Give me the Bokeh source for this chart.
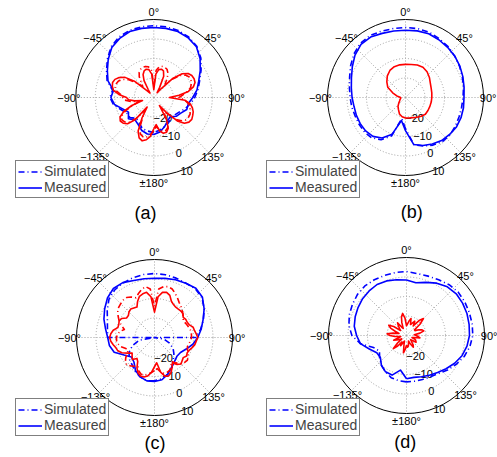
import numpy as np
from bokeh.plotting import figure
from bokeh.layouts import gridplot
from bokeh.models import Legend, LegendItem
from bokeh.core.properties import value
from bokeh.embed import file_html
from bokeh.resources import INLINE

# ---------------- data (dB, angle in degrees, 0 = top, clockwise) ----------------
ANG10 = list(range(-180, 180, 10))
ANG5 = list(range(-180, 180, 5))

RING_DB = [-20, -10, 0, 10]
RING_LABELS = ["\u221220", "\u221210", "0", "10"]
ANGLE_TICKS = [0, 45, 90, 135, 180, -135, -90, -45]
ANGLE_LABELS = ["0\u00b0", "45\u00b0", "90\u00b0", "135\u00b0", "\u00b1180\u00b0",
                "\u2212135\u00b0", "\u221290\u00b0", "\u221245\u00b0"]
SERIES = ["Simulated", "Measured"]
PANELS = ["(a)", "(b)", "(c)", "(d)"]

# panel (a)
a_blue_sim = [-12, -12.5, -13, -15, -16, -14, -14, -12, -9, -7.5, -8.5, -4.5, -2, 1, 4, 5.8, 6.6, 6.8,
              6.8, 6.8, 6.6, 5.8, 4.3, 1.5, -2, -5, -7, -9, -11, -13, -15, -16, -16, -15, -14, -13]
a_blue_meas = [-11, -11, -12, -14, -15, -13, -15, -13, -9.5, -8, -9, -5, -2.5, 0.5, 3.5, 5, 6, 6,
               5.9, 6, 6, 5.3, 4, 1, -2.5, -5.5, -7.5, -10, -12, -12, -14, -15, -17, -16, -14, -12]
a_red_sim = [-13, -11, -9.5, -9, -10, -13, -19, -22, -16, -12, -10.5, -10,
             -11, -14, -19, -22, -18, -15, -14, -13, -10.5, -9.5, -9.5, -10,
             -11.5, -14, -18, -22, -20, -17, -15, -14, -13.5, -13.5, -14, -16,
             -24, -16, -14, -13.5, -13.5, -14, -15.5, -18, -21, -17, -12.5, -10,
             -9, -9, -9.5, -10.5, -12.5, -15, -17, -14, -12, -11, -10, -9.5,
             -9.5, -10, -11.5, -14, -19, -22, -16, -13, -12, -12, -13, -15]
a_red_meas = [-14, -10, -8, -7, -8, -11, -18, -24, -15, -11, -9.5, -9,
              -10, -13, -18, -24, -20, -17, -16, -12, -9, -8, -7.5, -8,
              -9.5, -12, -17, -25, -27, -25, -20, -17, -15.5, -15, -15.5, -18,
              -26, -18, -15.5, -15, -15.5, -18, -24, -27, -24, -16, -11, -8.5,
              -7.5, -7.2, -7.5, -9, -12, -17, -22, -14, -11, -9.5, -8.5, -8,
              -7.5, -8, -9.5, -13, -20, -25, -17, -12.5, -11, -11, -12.5, -16]

# panel (b)
b_blue_sim = [-14, -19, -9, -5, -3, -2.5, -2.5, -2.5, -2, -1.6, -0.8, 0.5, 2.5, 4.6, 6.2, 6.6, 6.2, 5.9,
              5.9, 5.9, 5.6, 4.8, 4, 3, 2, 1, 0.2, -0.5, -0.8, -0.8, -0.5, -0.2, -0.5, -1.8, -3.5, -5.5]
b_blue_meas = [-13, -18, -10, -6, -4, -3.3, -3.2, -3.2, -3.2, -2.6, -1.8, -0.5, 1.5, 3.8, 5.5, 5.8, 5, 4.6,
               4.5, 4.7, 4.8, 4.2, 3.6, 3, 2.2, 1.3, 0.5, 0, 0.2, 0.3, 0.2, -0.5, -1.2, -2.5, -3.8, -5.5]
b_red_meas = [-19.5, -20, -21, -22.8, -24, -25.5, -26.5, -27, -27.5, -27.5, -25.5, -23, -19.5, -17.5,
              -15.5, -14, -13.2, -13, -13, -12.8, -12.3, -12.1, -12.8, -14, -15.3, -16, -16.3, -16.5,
              -16.6, -16.7, -16.7, -16.7, -17.5, -18.3, -19, -19.3]

# panel (c)
c_blue_sim_ang = [-180, -170, -160, -150, -140, -130, -120, -110, -100, -90, -90, -80, -70, -60, -50, -40,
                  -30, -20, -10, 0, 10, 20, 30, 40, 50, 60, 70, 80, 90, 90, 100, 110, 120, 130, 140, 150,
                  160, 170]
c_blue_sim = [-7.8, -7.5, -8.5, -10, -12, -13, -15, -18, -22, -30, -6, -5.5, -4.3, -2, 0.5, 1.8,
              2.3, 2.6, 2.8, 2.8, 2.7, 2.4, 2.2, 2.6, 1.8, -0.6, -3.3, -6, -9, -30, -25, -22, -19, -17,
              -15, -12, -10, -8.5]
c_blue_meas = [-7.4, -7.4, -8.5, -10.5, -13.6, -14.5, -12, -8, -6.5, -6, -4.5, -2.4, -0.5, 1.5, 2.8, 2.5,
               1.1, 0.6, 0.4, 0.8, 1.5, 2.1, 3, 2.1, -0.6, -3.5, -5.7, -7.8, -10, -12.7, -14.6, -15,
               -14, -12.4, -10, -8]
c_red_sim = [-13, -12, -11, -10, -10, -11, -13, -12, -11, -10, -10.5, -12,
             -14, -15, -14, -12, -11, -10.5, -10.5, -11, -12, -14, -12, -10,
             -8.5, -7, -6, -5.5, -5, -5, -6, -7.5, -6, -4.5, -3.5, -5,
             -14, -5, -3.5, -3, -3.5, -5, -6.5, -8, -9, -10, -11, -12,
             -13, -12.5, -12, -11.5, -11, -11, -11, -11.5, -12, -12.5, -12, -11,
             -10, -9.5, -10, -11, -13, -15, -13, -11.5, -11, -11, -12, -14]
c_red_meas = [-15, -12, -10, -9, -9, -10, -12, -15, -16, -14, -15, -16,
              -14, -11.5, -10, -9.5, -8.5, -7.5, -7, -7.5, -8.5, -10.5, -10.5, -10,
              -10.5, -12.5, -12.5, -11.5, -11, -11.5, -12, -9.5, -7.5, -6.8, -6.5, -9,
              -17, -9, -6.5, -6, -7, -9.5, -10.5, -11, -11, -10.8, -11, -12,
              -11.5, -11.5, -11, -9.5, -9.2, -8.5, -7.8, -8.5, -9, -10, -11, -11.5,
              -11, -12, -11.5, -10.8, -12, -14, -12, -10, -9, -9.5, -12, -17]

# panel (d)
d_blue_sim = [-6.2, -6.5, -7, -8.5, -10, -12, -14, -12, -6, -2, 0, 1.2, 2, 2.8, 3.2, 3, 2.8, 2.8,
              2.8, 2.2, 2.4, 3, 4, 4.6, 4.5, 4.3, 4.2, 4, 3, 1.5, -0.5, -2.5, -4.5, -5.5, -6, -6.2]
d_blue_meas = [-7.8, -12, -8.4, -8.5, -10, -12.5, -12.4, -9.7, -6, -4.4, -2.8, -2, -1.3, -0.6, -0.2, 0.2,
               -0.2, -1, -1.5, -2.5, -1, 1, 2.6, 3.3, 3.2, 3, 2.6, 2.3, 1.5, 0.3, -1.5, -3.5, -5.2,
               -6.5, -7.5, -8.2]
d_red_meas = [-25, -23, -21, -25, -27, -26, -24, -26, -23, -20.5, -24, -27,
              -26, -24.5, -23, -26, -27, -24, -21.5, -20, -23, -26, -24, -21,
              -19.5, -22, -26, -25, -23.5, -22, -25, -26, -23, -20, -18.5, -21,
              -25, -24, -22.5, -21, -24, -23, -21.5, -24, -20, -17.7, -21, -25,
              -25, -23, -21.5, -20.8, -23, -26, -25, -24, -23, -26, -27, -25,
              -24.5, -24, -26, -27, -26, -24, -23, -25, -27, -26, -24.5, -24]

# ---------------- layout / style ----------------
S = 1.95            # px per dB
FLOOR = -30         # centre of the polar plot
OUTER = 40          # outer ring radius (dB above floor)
FONT = value("Liberation Sans")
BLUE, RED = "#0000ff", "#ff0000"
DASHDOT = "6 3 1 3"
LW = 1.6


def polar_xy(ang, db):
    t = np.radians(np.asarray(ang, dtype=float))
    r = np.clip(np.asarray(db, dtype=float) - FLOOR, 0, None)
    x = r * np.sin(t)
    y = r * np.cos(t)
    return np.append(x, x[0]), np.append(y, y[0])


def panel(cx, cy, w, h, label, label_px, curves, legend_px):
    p = figure(width=w, height=h,
               x_range=(-cx / S, (w - cx) / S), y_range=(-(h - cy) / S, cy / S),
               x_axis_type=None, y_axis_type=None, toolbar_location=None,
               output_backend="svg", min_border=0, outline_line_color=None,
               background_fill_color="white", border_fill_color="white")
    # grid
    p.circle(x=[0, 0, 0], y=[0, 0, 0], radius=[d - FLOOR for d in RING_DB[:-1]],
             fill_color=None, line_color="#a0a0a0", line_dash="1 2", line_width=1)
    sp = np.radians(np.arange(0, 360, 45))
    p.segment(x0=np.zeros(len(sp)), y0=np.zeros(len(sp)),
              x1=OUTER * np.sin(sp), y1=OUTER * np.cos(sp),
              line_color="#a0a0a0", line_dash="1 2", line_width=1)
    p.circle(x=[0], y=[0], radius=[OUTER], fill_color=None, line_color="black", line_width=1)
    # angle labels
    ta = np.radians(ANGLE_TICKS)
    rl = np.array([42.8 if a % 90 else (42.4 if a == 90 else 43.6) for a in ANGLE_TICKS])
    p.text(x=rl * np.sin(ta), y=rl * np.cos(ta), text=ANGLE_LABELS,
           text_font=FONT, text_font_size="11px", text_align="center",
           text_baseline="middle", text_color="black")
    # ring labels
    la = np.radians(156)
    rr = np.array([d - FLOOR + 1.4 for d in RING_DB])
    p.text(x=rr * np.sin(la), y=rr * np.cos(la), text=RING_LABELS,
           text_font=FONT, text_font_size="11px", text_align="center",
           text_baseline="middle", text_color="black")
    # panel label
    lx, ly = label_px
    p.text(x=[(lx - cx) / S], y=[(cy - ly) / S], text=[label], text_font=FONT,
           text_font_size="18px", text_align="center", text_baseline="middle",
           text_color="black")
    # curves
    rends = {}
    for key, ang, db, color, dash in curves:
        x, y = polar_xy(ang, db)
        r = p.line(x, y, line_color=color, line_width=LW, line_dash=dash,
                   line_join="round")
        rends[key] = r
    legend = Legend(items=[LegendItem(label=SERIES[0], renderers=[rends["bs"]]),
                           LegendItem(label=SERIES[1], renderers=[rends["bm"]])],
                    location=legend_px, orientation="vertical",
                    label_text_font="Liberation Sans", label_text_font_size="14px",
                    glyph_width=24, glyph_height=15, label_height=15,
                    label_standoff=2, padding=2, spacing=0, margin=0,
                    border_line_color="black", border_line_width=1,
                    background_fill_color="white", background_fill_alpha=1.0)
    p.add_layout(legend)
    return p


pa = panel(153.3, 97, 248, 228, PANELS[0], (145, 212),
           [("bs", ANG10, a_blue_sim, BLUE, DASHDOT),
            ("bm", ANG10, a_blue_meas, BLUE, "solid"),
            ("rs", ANG5, a_red_sim, RED, DASHDOT),
            ("rm", ANG5, a_red_meas, RED, "solid")],
           (15, 30))
pb = panel(157, 97, 249, 228, PANELS[1], (163.3, 211.7),
           [("bs", ANG10, b_blue_sim, BLUE, DASHDOT),
            ("bm", ANG10, b_blue_meas, BLUE, "solid"),
            ("rm", ANG10, b_red_meas, RED, "solid")],
           (18, 30))
pc = panel(154, 109, 248, 229, PANELS[2], (154.5, 214.5),
           [("bs", c_blue_sim_ang, c_blue_sim, BLUE, DASHDOT),
            ("bm", ANG10, c_blue_meas, BLUE, "solid"),
            ("rs", ANG5, c_red_sim, RED, DASHDOT),
            ("rm", ANG5, c_red_meas, RED, "solid")],
           (15, 21))
pd_ = panel(158, 107, 249, 229, PANELS[3], (156.7, 213.5),
            [("bs", ANG10, d_blue_sim, BLUE, DASHDOT),
             ("bm", ANG10, d_blue_meas, BLUE, "solid"),
             ("rm", ANG5, d_red_meas, RED, "solid")],
            (18, 21))

grid = gridplot([[pa, pb], [pc, pd_]], toolbar_location=None)
open("out.html", "w").write(file_html(grid, INLINE))
